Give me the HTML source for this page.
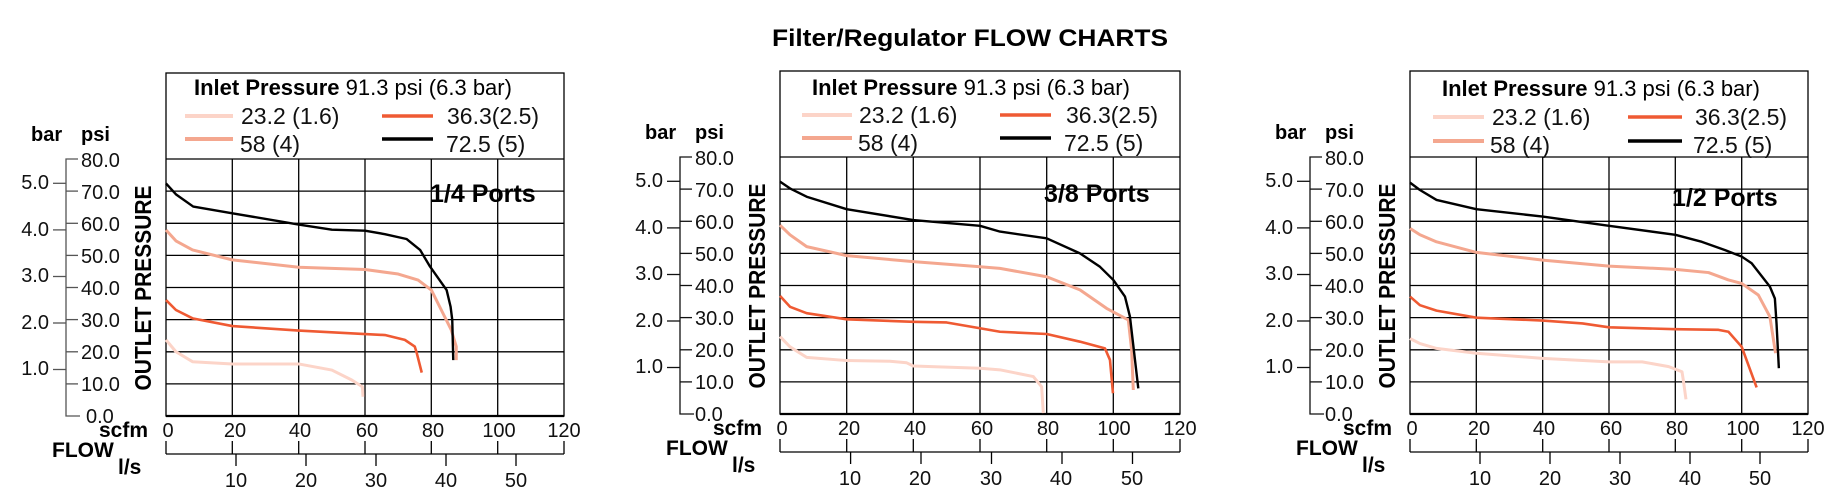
<!DOCTYPE html>
<html><head><meta charset="utf-8"><style>
html,body{margin:0;padding:0;background:#fff;}
svg{display:block;font-family:"Liberation Sans",Arial,sans-serif;}
.g{stroke:#000;stroke-width:1.3;fill:none}
.t{font-size:20px;fill:#111}
.lg{font-size:23px;fill:#111}
.b{font-weight:bold}
.c{fill:none;stroke-linejoin:round;stroke-linecap:butt;vector-effect:non-scaling-stroke}
</style></head><body>
<svg width="1828" height="494" viewBox="0 0 1828 494" xmlns="http://www.w3.org/2000/svg">
<text x="772" y="46" class="b" font-size="24" textLength="396" lengthAdjust="spacingAndGlyphs">Filter/Regulator FLOW CHARTS</text>

<!-- CHART 1 -->
<g>
<rect x="166" y="73" width="398" height="343" class="g"/>
<line x1="166" y1="159" x2="564" y2="159" class="g"/>
<line x1="166" y1="416" x2="564" y2="416" stroke="#000" stroke-width="2.2"/>
<g class="g">
<line x1="232.3" y1="159" x2="232.3" y2="416"/><line x1="298.7" y1="159" x2="298.7" y2="416"/><line x1="365" y1="159" x2="365" y2="416"/><line x1="431.3" y1="159" x2="431.3" y2="416"/><line x1="497.7" y1="159" x2="497.7" y2="416"/>
<line x1="166" y1="383.9" x2="564" y2="383.9"/><line x1="166" y1="351.8" x2="564" y2="351.8"/><line x1="166" y1="319.6" x2="564" y2="319.6"/><line x1="166" y1="287.5" x2="564" y2="287.5"/><line x1="166" y1="255.4" x2="564" y2="255.4"/><line x1="166" y1="223.3" x2="564" y2="223.3"/><line x1="166" y1="191.1" x2="564" y2="191.1"/>
</g>
<text x="194" y="95" font-size="22"><tspan class="b">Inlet Pressure</tspan> 91.3 psi (6.3 bar)</text>
<line x1="185" y1="116" x2="233" y2="116" stroke="#fcd4c8" stroke-width="4"/>
<line x1="185" y1="139" x2="233" y2="139" stroke="#f4a78f" stroke-width="4"/>
<line x1="382" y1="116" x2="433" y2="116" stroke="#ef5a33" stroke-width="3.5"/>
<line x1="382" y1="139" x2="433" y2="139" stroke="#000" stroke-width="3.5"/>
<text x="241" y="124" class="lg">23.2 (1.6)</text>
<text x="240" y="152" class="lg">58 (4)</text>
<text x="447" y="124" class="lg">36.3(2.5)</text>
<text x="446" y="152" class="lg">72.5 (5)</text>
<g stroke="#555" stroke-width="1.3" fill="none">
<path d="M78 159 H66 V416 H80"/>
<line x1="66" y1="191.1" x2="78" y2="191.1"/><line x1="66" y1="223.3" x2="78" y2="223.3"/><line x1="66" y1="255.4" x2="78" y2="255.4"/><line x1="66" y1="287.5" x2="78" y2="287.5"/><line x1="66" y1="319.6" x2="78" y2="319.6"/><line x1="66" y1="351.8" x2="78" y2="351.8"/><line x1="66" y1="383.9" x2="78" y2="383.9"/>
<line x1="53" y1="183.3" x2="66" y2="183.3"/><line x1="53" y1="229.9" x2="66" y2="229.9"/><line x1="53" y1="276.5" x2="66" y2="276.5"/><line x1="53" y1="323" x2="66" y2="323"/><line x1="53" y1="369.5" x2="66" y2="369.5"/>
</g>
<g class="t">
<text x="81" y="167">80.0</text><text x="81" y="199">70.0</text><text x="81" y="231">60.0</text><text x="81" y="263">50.0</text><text x="81" y="295">40.0</text><text x="81" y="327">30.0</text><text x="81" y="359">20.0</text><text x="81" y="391">10.0</text><text x="86" y="423">0.0</text>
<g text-anchor="end"><text x="49" y="189">5.0</text><text x="49" y="236">4.0</text><text x="49" y="282">3.0</text><text x="49" y="329">2.0</text><text x="49" y="375">1.0</text></g>
</g>
<text x="31" y="141" class="b" font-size="20">bar</text>
<text x="81" y="141" class="b" font-size="20">psi</text>
<text transform="translate(151,288) rotate(-90)" text-anchor="middle" class="b" font-size="23" textLength="205" lengthAdjust="spacingAndGlyphs">OUTLET PRESSURE</text>
<text x="430" y="202" class="b" font-size="25">1/4 Ports</text>
<text x="148" y="437" text-anchor="end" class="b" font-size="21">scfm</text>
<text x="52" y="457" class="b" font-size="21">FLOW</text>
<text x="118" y="474" class="b" font-size="21">l/s</text>
<g class="t" text-anchor="middle">
<text x="168" y="437">0</text><text x="235" y="437">20</text><text x="300" y="437">40</text><text x="367" y="437">60</text><text x="433" y="437">80</text><text x="499" y="437">100</text><text x="564" y="437">120</text>
<text x="236" y="487">10</text><text x="306" y="487">20</text><text x="376" y="487">30</text><text x="446" y="487">40</text><text x="516" y="487">50</text>
</g>
<g stroke="#000" stroke-width="1.3">
<line x1="166" y1="454" x2="564" y2="454"/>
<line x1="166" y1="441" x2="166" y2="454"/><line x1="232.3" y1="441" x2="232.3" y2="454"/><line x1="298.7" y1="441" x2="298.7" y2="454"/><line x1="365" y1="441" x2="365" y2="454"/><line x1="431.3" y1="441" x2="431.3" y2="454"/><line x1="497.7" y1="441" x2="497.7" y2="454"/><line x1="564" y1="441" x2="564" y2="454"/>
<line x1="236" y1="454" x2="236" y2="466"/><line x1="306" y1="454" x2="306" y2="466"/><line x1="376" y1="454" x2="376" y2="466"/><line x1="446" y1="454" x2="446" y2="466"/><line x1="516" y1="454" x2="516" y2="466"/>
</g>
<g transform="translate(166,416) scale(3.317,-3.2125)">
<polyline class="c" stroke="#fcd4c8" stroke-width="3" points="0,23.7 3,20 8,16.9 20,16.2 40,16.2 50,14.3 56,11.2 59.2,9.1 59.4,6"/>
<polyline class="c" stroke="#f4a78f" stroke-width="3" points="0,57.9 3,54.5 8,51.7 20,48.6 40,46.3 60,45.6 70,44.2 76,42.3 80,39.2 83,33 86,26.8 87.5,21.6 87.5,17.4"/>
<polyline class="c" stroke="#ef5a33" stroke-width="2.6" points="0,36.1 3,33 8,30.4 20,28 40,26.6 60,25.5 66,25.2 72,23.7 75,21.6 75.6,19.6 77.1,13.5"/>
<polyline class="c" stroke="#000" stroke-width="2.4" points="0,72.4 3,69 8.2,65.2 20,63.1 40,59.6 50,58 60,57.7 66,56.6 72.5,55.1 76.6,51.7 79.6,46.5 84.6,39.2 85.8,34 86.3,29.9 86.6,17.4"/>
</g>
</g>

<!-- CHART 2 -->
<g transform="translate(614,-2)">
<rect x="166" y="73" width="400" height="343" class="g"/>
<line x1="166" y1="159" x2="566" y2="159" class="g"/>
<line x1="166" y1="416" x2="566" y2="416" stroke="#000" stroke-width="2.2"/>
<g class="g">
<line x1="232.7" y1="159" x2="232.7" y2="416"/><line x1="299.3" y1="159" x2="299.3" y2="416"/><line x1="366" y1="159" x2="366" y2="416"/><line x1="432.7" y1="159" x2="432.7" y2="416"/><line x1="499.3" y1="159" x2="499.3" y2="416"/>
<line x1="166" y1="383.9" x2="566" y2="383.9"/><line x1="166" y1="351.8" x2="566" y2="351.8"/><line x1="166" y1="319.6" x2="566" y2="319.6"/><line x1="166" y1="287.5" x2="566" y2="287.5"/><line x1="166" y1="255.4" x2="566" y2="255.4"/><line x1="166" y1="223.3" x2="566" y2="223.3"/><line x1="166" y1="191.1" x2="566" y2="191.1"/>
</g>
<text x="198" y="97" font-size="22"><tspan class="b">Inlet Pressure</tspan> 91.3 psi (6.3 bar)</text>
<line x1="188" y1="117" x2="238" y2="117" stroke="#fcd4c8" stroke-width="4"/>
<line x1="188" y1="140" x2="238" y2="140" stroke="#f4a78f" stroke-width="4"/>
<line x1="386" y1="117" x2="437" y2="117" stroke="#ef5a33" stroke-width="3.5"/>
<line x1="386" y1="140" x2="437" y2="140" stroke="#000" stroke-width="3.5"/>
<text x="245" y="125" class="lg">23.2 (1.6)</text>
<text x="244" y="153" class="lg">58 (4)</text>
<text x="452" y="125" class="lg">36.3(2.5)</text>
<text x="450" y="153" class="lg">72.5 (5)</text>
<g stroke="#111" stroke-width="1.3" fill="none">
<path d="M78 159 H66 V416 H80"/>
<line x1="66" y1="191.1" x2="78" y2="191.1"/><line x1="66" y1="223.3" x2="78" y2="223.3"/><line x1="66" y1="255.4" x2="78" y2="255.4"/><line x1="66" y1="287.5" x2="78" y2="287.5"/><line x1="66" y1="319.6" x2="78" y2="319.6"/><line x1="66" y1="351.8" x2="78" y2="351.8"/><line x1="66" y1="383.9" x2="78" y2="383.9"/>
<line x1="53" y1="183.3" x2="66" y2="183.3"/><line x1="53" y1="229.9" x2="66" y2="229.9"/><line x1="53" y1="276.5" x2="66" y2="276.5"/><line x1="53" y1="323" x2="66" y2="323"/><line x1="53" y1="369.5" x2="66" y2="369.5"/>
</g>
<g class="t">
<text x="81" y="167">80.0</text><text x="81" y="199">70.0</text><text x="81" y="231">60.0</text><text x="81" y="263">50.0</text><text x="81" y="295">40.0</text><text x="81" y="327">30.0</text><text x="81" y="359">20.0</text><text x="81" y="391">10.0</text><text x="81" y="423">0.0</text>
<g text-anchor="end"><text x="49" y="189">5.0</text><text x="49" y="236">4.0</text><text x="49" y="282">3.0</text><text x="49" y="329">2.0</text><text x="49" y="375">1.0</text></g>
</g>
<text x="31" y="141" class="b" font-size="20">bar</text>
<text x="81" y="141" class="b" font-size="20">psi</text>
<text transform="translate(151,288) rotate(-90)" text-anchor="middle" class="b" font-size="23" textLength="205" lengthAdjust="spacingAndGlyphs">OUTLET PRESSURE</text>
<text x="430" y="204" class="b" font-size="25">3/8 Ports</text>
<text x="148" y="437" text-anchor="end" class="b" font-size="21">scfm</text>
<text x="52" y="457" class="b" font-size="21">FLOW</text>
<text x="118" y="474" class="b" font-size="21">l/s</text>
<g class="t" text-anchor="middle">
<text x="168" y="437">0</text><text x="235" y="437">20</text><text x="301" y="437">40</text><text x="368" y="437">60</text><text x="434" y="437">80</text><text x="500" y="437">100</text><text x="566" y="437">120</text>
<text x="236" y="487">10</text><text x="306" y="487">20</text><text x="377" y="487">30</text><text x="447" y="487">40</text><text x="518" y="487">50</text>
</g>
<g stroke="#000" stroke-width="1.3">
<line x1="166" y1="454" x2="566" y2="454"/>
<line x1="166" y1="441" x2="166" y2="454"/><line x1="232.7" y1="441" x2="232.7" y2="454"/><line x1="299.3" y1="441" x2="299.3" y2="454"/><line x1="366" y1="441" x2="366" y2="454"/><line x1="432.7" y1="441" x2="432.7" y2="454"/><line x1="499.3" y1="441" x2="499.3" y2="454"/><line x1="566" y1="441" x2="566" y2="454"/>
<line x1="236.6" y1="454" x2="236.6" y2="466"/><line x1="307" y1="454" x2="307" y2="466"/><line x1="377.5" y1="454" x2="377.5" y2="466"/><line x1="448" y1="454" x2="448" y2="466"/><line x1="518.5" y1="454" x2="518.5" y2="466"/>
</g>
<g transform="translate(166,416) scale(3.333,-3.2)">
<polyline class="c" stroke="#fcd4c8" stroke-width="3" points="0,24.2 3,21 8,17.7 20,16.7 33,16.5 38,16 40,15 60,14.3 66,13.8 76,11.7 78.5,8.5 79,0.3"/>
<polyline class="c" stroke="#f4a78f" stroke-width="3" points="0,59 3,56 8,52.3 20,49.5 40,47.6 60,46 66,45.5 80,42.9 90,38.8 98,33 104.5,29.4 105.5,20 106,7.5"/>
<polyline class="c" stroke="#ef5a33" stroke-width="2.6" points="0,36.9 3,33.5 8,31.5 20,29.6 40,28.8 50,28.6 60,26.8 66,25.7 80,25 90,22.6 97.5,20.5 99,16.9 99.9,6.5"/>
<polyline class="c" stroke="#000" stroke-width="2.4" points="0,72.6 3,70.5 8,67.9 20,64 40,60.6 60,58.8 66,57 80,54.9 90,50.2 96,46 100,41.9 103.5,36.7 105,30.4 107.5,8"/>
</g>
</g>

<!-- CHART 3 -->
<g transform="translate(1244,-2)">
<rect x="166" y="73" width="398" height="343" class="g"/>
<line x1="166" y1="159" x2="564" y2="159" class="g"/>
<line x1="166" y1="416" x2="564" y2="416" stroke="#000" stroke-width="2.2"/>
<g class="g">
<line x1="232.3" y1="159" x2="232.3" y2="416"/><line x1="298.7" y1="159" x2="298.7" y2="416"/><line x1="365" y1="159" x2="365" y2="416"/><line x1="431.3" y1="159" x2="431.3" y2="416"/><line x1="497.7" y1="159" x2="497.7" y2="416"/>
<line x1="166" y1="383.9" x2="564" y2="383.9"/><line x1="166" y1="351.8" x2="564" y2="351.8"/><line x1="166" y1="319.6" x2="564" y2="319.6"/><line x1="166" y1="287.5" x2="564" y2="287.5"/><line x1="166" y1="255.4" x2="564" y2="255.4"/><line x1="166" y1="223.3" x2="564" y2="223.3"/><line x1="166" y1="191.1" x2="564" y2="191.1"/>
</g>
<text x="198" y="98" font-size="22"><tspan class="b">Inlet Pressure</tspan> 91.3 psi (6.3 bar)</text>
<line x1="189" y1="119" x2="240" y2="119" stroke="#fcd4c8" stroke-width="4"/>
<line x1="189" y1="143" x2="240" y2="143" stroke="#f4a78f" stroke-width="4"/>
<line x1="384" y1="119" x2="438" y2="119" stroke="#ef5a33" stroke-width="3.5"/>
<line x1="384" y1="143" x2="438" y2="143" stroke="#000" stroke-width="3.5"/>
<text x="248" y="127" class="lg">23.2 (1.6)</text>
<text x="246" y="155" class="lg">58 (4)</text>
<text x="451" y="127" class="lg">36.3(2.5)</text>
<text x="449" y="155" class="lg">72.5 (5)</text>
<g stroke="#111" stroke-width="1.3" fill="none">
<path d="M78 159 H66 V416 H80"/>
<line x1="66" y1="191.1" x2="78" y2="191.1"/><line x1="66" y1="223.3" x2="78" y2="223.3"/><line x1="66" y1="255.4" x2="78" y2="255.4"/><line x1="66" y1="287.5" x2="78" y2="287.5"/><line x1="66" y1="319.6" x2="78" y2="319.6"/><line x1="66" y1="351.8" x2="78" y2="351.8"/><line x1="66" y1="383.9" x2="78" y2="383.9"/>
<line x1="53" y1="183.3" x2="66" y2="183.3"/><line x1="53" y1="229.9" x2="66" y2="229.9"/><line x1="53" y1="276.5" x2="66" y2="276.5"/><line x1="53" y1="323" x2="66" y2="323"/><line x1="53" y1="369.5" x2="66" y2="369.5"/>
</g>
<g class="t">
<text x="81" y="167">80.0</text><text x="81" y="199">70.0</text><text x="81" y="231">60.0</text><text x="81" y="263">50.0</text><text x="81" y="295">40.0</text><text x="81" y="327">30.0</text><text x="81" y="359">20.0</text><text x="81" y="391">10.0</text><text x="81" y="423">0.0</text>
<g text-anchor="end"><text x="49" y="189">5.0</text><text x="49" y="236">4.0</text><text x="49" y="282">3.0</text><text x="49" y="329">2.0</text><text x="49" y="375">1.0</text></g>
</g>
<text x="31" y="141" class="b" font-size="20">bar</text>
<text x="81" y="141" class="b" font-size="20">psi</text>
<text transform="translate(151,288) rotate(-90)" text-anchor="middle" class="b" font-size="23" textLength="205" lengthAdjust="spacingAndGlyphs">OUTLET PRESSURE</text>
<text x="428" y="208" class="b" font-size="25">1/2 Ports</text>
<text x="148" y="437" text-anchor="end" class="b" font-size="21">scfm</text>
<text x="52" y="457" class="b" font-size="21">FLOW</text>
<text x="118" y="474" class="b" font-size="21">l/s</text>
<g class="t" text-anchor="middle">
<text x="168" y="437">0</text><text x="235" y="437">20</text><text x="300" y="437">40</text><text x="367" y="437">60</text><text x="433" y="437">80</text><text x="499" y="437">100</text><text x="564" y="437">120</text>
<text x="236" y="487">10</text><text x="306" y="487">20</text><text x="376" y="487">30</text><text x="446" y="487">40</text><text x="516" y="487">50</text>
</g>
<g stroke="#000" stroke-width="1.3">
<line x1="166" y1="454" x2="564" y2="454"/>
<line x1="166" y1="441" x2="166" y2="454"/><line x1="232.3" y1="441" x2="232.3" y2="454"/><line x1="298.7" y1="441" x2="298.7" y2="454"/><line x1="365" y1="441" x2="365" y2="454"/><line x1="431.3" y1="441" x2="431.3" y2="454"/><line x1="497.7" y1="441" x2="497.7" y2="454"/><line x1="564" y1="441" x2="564" y2="454"/>
<line x1="236" y1="454" x2="236" y2="466"/><line x1="306" y1="454" x2="306" y2="466"/><line x1="376" y1="454" x2="376" y2="466"/><line x1="446" y1="454" x2="446" y2="466"/><line x1="516" y1="454" x2="516" y2="466"/>
</g>
<g transform="translate(166,416) scale(3.317,-3.2)">
<polyline class="c" stroke="#fcd4c8" stroke-width="3" points="0,23.6 3,22 8,20.5 20,19 40,17.4 60,16.3 70,16.3 78,14.8 82,13.2 82.4,10.6 83.2,4.6"/>
<polyline class="c" stroke="#f4a78f" stroke-width="3" points="0,58 3,56 8,53.8 20,50.5 40,48.1 60,46.2 80,45.2 90,44.2 96,41.9 100,40.8 105,37.2 108.5,30.4 110.2,19"/>
<polyline class="c" stroke="#ef5a33" stroke-width="2.6" points="0,36.7 3,34 8,32.3 20,30.1 40,29.2 52,28.3 60,27.1 80,26.5 93,26.3 96,25.7 100,21 104.5,8.3"/>
<polyline class="c" stroke="#000" stroke-width="2.4" points="0,72.3 3,70 8,66.9 20,64 40,61.7 60,58.8 80,56 88,53.8 95,51.2 100,49.2 103,47.1 108.5,39.8 110,36.1 110.5,28.3 111.2,14.3"/>
</g>
</g>
</svg>
</body></html>
